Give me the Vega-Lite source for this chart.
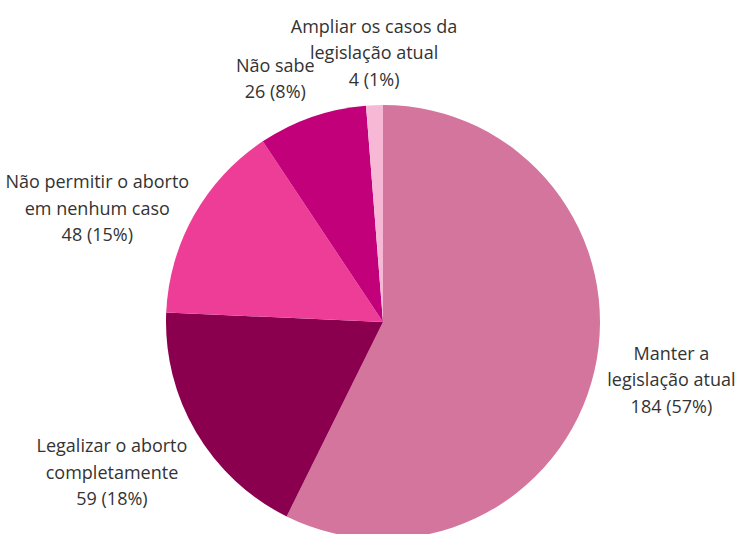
{
  "$schema": "https://vega.github.io/schema/vega-lite/v6.json",
  "width": 712,
  "height": 424,
  "autosize": {"type": "none"},
  "padding": {"left": 27, "top": 110, "right": 0, "bottom": 0},
  "background": "white",
  "config": {"view": {"stroke": null}},
  "data": {
    "values": [
      {"resposta": "Manter a legislação atual", "n": 184, "rotulo": "Manter a\nlegislação atual\n184 (57%)"},
      {"resposta": "Legalizar o aborto completamente", "n": 59, "rotulo": "Legalizar o aborto\ncompletamente\n59 (18%)"},
      {"resposta": "Não permitir o aborto em nenhum caso", "n": 48, "rotulo": "Não permitir o aborto\nem nenhum caso\n48 (15%)"},
      {"resposta": "Não sabe", "n": 26, "rotulo": "Não sabe\n26 (8%)"},
      {"resposta": "Ampliar os casos da legislação atual", "n": 4, "rotulo": "Ampliar os casos da\nlegislação atual\n4 (1%)"}
    ]
  },
  "transform": [
    {"window": [{"op": "row_number", "as": "ordem"}]},
    {"window": [{"op": "sum", "field": "n", "as": "acum"}], "sort": [{"field": "ordem", "order": "ascending"}], "frame": [null, 0]},
    {"joinaggregate": [{"op": "sum", "field": "n", "as": "total"}]}
  ],
  "encoding": {
    "theta": {"field": "n", "type": "quantitative", "stack": true},
    "order": {"field": "ordem", "type": "quantitative", "sort": "ascending"}
  },
  "layer": [
    {
      "mark": {"type": "arc", "outerRadius": 217},
      "encoding": {
        "color": {
          "field": "resposta",
          "type": "nominal",
          "legend": null,
          "scale": {
            "domain": ["Manter a legislação atual", "Legalizar o aborto completamente", "Não permitir o aborto em nenhum caso", "Não sabe", "Ampliar os casos da legislação atual"],
            "range": ["#D4759E", "#8A004E", "#EE3D96", "#C2007A", "#F7B8D6"]
          }
        }
      }
    },
    {
      "mark": {
        "type": "text",
        "radius": 228,
        "align": "center",
        "baseline": "middle",
        "dx": {"expr": "abs(sin(2*PI*(datum.acum - datum.n/2)/datum.total)) < 0.2 ? 0 : (sin(2*PI*(datum.acum - datum.n/2)/datum.total) > 0 ? 1 : -1) * 4.15 * max(length(split(datum.rotulo, '\\n')[0]), length(split(datum.rotulo, '\\n')[1] || ''), length(split(datum.rotulo, '\\n')[2] || ''))"},
        "dy": {"expr": "-(length(split(datum.rotulo, '\\n')) - 1) * 13.25 - (cos(2*PI*(datum.acum - datum.n/2)/datum.total) < 0 ? -min(1, 3.5*cos(2*PI*(datum.acum - datum.n/2)/datum.total)*cos(2*PI*(datum.acum - datum.n/2)/datum.total)) : (cos(2*PI*(datum.acum - datum.n/2)/datum.total) > 0.8 ? 1 : 0)) * length(split(datum.rotulo, '\\n')) * 13.25"},
        "lineBreak": "\n",
        "lineHeight": 26.5,
        "font": "Open Sans",
        "fontSize": 18,
        "fill": "#333333"
      },
      "encoding": {
        "text": {"field": "rotulo", "type": "nominal"}
      }
    }
  ]
}
